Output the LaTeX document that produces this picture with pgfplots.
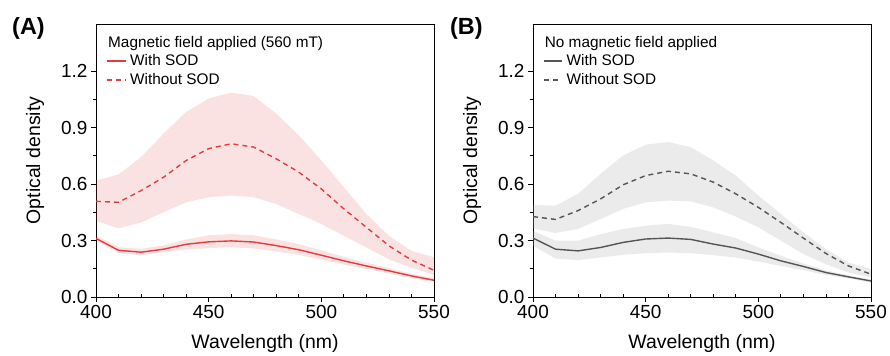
\documentclass[border=0pt]{standalone}
\usepackage{pgfplots}
\pgfplotsset{compat=1.18}
\usepackage{pgfplotstable}
\usepgfplotslibrary{fillbetween}
\usepackage{fontspec}
\setmainfont{Liberation Sans}
\definecolor{lred}{RGB}{228,60,62}
\definecolor{lgray}{RGB}{85,85,85}
\definecolor{fgray}{RGB}{175,175,175}

\pgfplotstableread{
x w wlo whi wo wolo wohi
400 0.311 0.300 0.325 0.508 0.405 0.619
410 0.248 0.233 0.265 0.503 0.364 0.651
420 0.238 0.222 0.256 0.565 0.396 0.743
430 0.254 0.236 0.274 0.636 0.450 0.868
440 0.280 0.252 0.305 0.725 0.503 0.983
450 0.293 0.260 0.328 0.788 0.530 1.054
460 0.298 0.264 0.334 0.814 0.539 1.086
470 0.292 0.258 0.328 0.796 0.530 1.067
480 0.273 0.242 0.306 0.734 0.494 0.974
490 0.251 0.224 0.281 0.663 0.441 0.859
500 0.222 0.198 0.248 0.574 0.388 0.725
510 0.192 0.172 0.213 0.468 0.325 0.583
520 0.165 0.148 0.182 0.370 0.263 0.441
530 0.139 0.125 0.153 0.272 0.200 0.325
540 0.112 0.100 0.124 0.196 0.156 0.245
550 0.089 0.080 0.100 0.142 0.117 0.211
}\dataA

\pgfplotstableread{
x w wlo whi wo wolo wohi
400 0.313 0.272 0.352 0.427 0.364 0.489
410 0.254 0.204 0.299 0.412 0.340 0.485
420 0.245 0.196 0.299 0.459 0.361 0.548
430 0.263 0.210 0.334 0.521 0.414 0.654
440 0.290 0.224 0.361 0.596 0.468 0.752
450 0.308 0.233 0.379 0.645 0.503 0.809
460 0.313 0.236 0.388 0.668 0.512 0.823
470 0.306 0.233 0.373 0.654 0.508 0.796
480 0.281 0.222 0.343 0.610 0.476 0.725
490 0.260 0.210 0.313 0.548 0.427 0.645
500 0.228 0.188 0.263 0.476 0.370 0.539
510 0.192 0.165 0.219 0.396 0.299 0.441
520 0.162 0.142 0.178 0.313 0.228 0.343
530 0.130 0.117 0.141 0.231 0.174 0.254
540 0.107 0.099 0.115 0.165 0.130 0.183
550 0.085 0.076 0.094 0.121 0.103 0.148
}\dataB

\pgfplotsset{
  panel/.style={
    scale only axis, width=338bp, height=273bp,
    clip mode=individual,
    xmin=400, xmax=550, ymin=0, ymax=1.45,
    xtick={400,450,500,550}, minor x tick num=4,
    ytick={0,0.3,0.6,0.9,1.2}, minor y tick num=1,
    yticklabel style={/pgf/number format/.cd, fixed, fixed zerofill, precision=1},
    /pgf/number format/assume math mode=true,
    tick align=outside, tick pos=left,
    major tick length=5bp, minor tick length=3bp,
    minor x tick style={yshift=3bp},
    axis line style={line width=0.8bp},
    every tick/.style={black, line width=0.8bp},
    ticklabel style={font=\fontsize{19}{22}\selectfont},
    label style={font=\fontsize{19.5}{23}\selectfont},
    xlabel={Wavelength (nm)}, ylabel={Optical density},
    xlabel style={at={(rel axis cs:0.5,-0.172)}, anchor=center},
    ylabel style={at={(rel axis cs:-0.1805,0.5)}, anchor=center},
  },
  bandline/.style={draw=none, forget plot},
}

\begin{document}
\begin{tikzpicture}
\begin{axis}[panel, name=A, at={(0,0)}, anchor=south west]
  \addplot[bandline, name path=a1] table[x=x, y=whi] {\dataA};
  \addplot[bandline, name path=a2] table[x=x, y=wlo] {\dataA};
  \addplot[bandline, name path=a3] table[x=x, y=wohi] {\dataA};
  \addplot[bandline, name path=a4] table[x=x, y=wolo] {\dataA};
  \addplot[fill=lred, fill opacity=0.15, draw=none, forget plot] fill between[of=a3 and a4];
  \addplot[fill=lred, fill opacity=0.15, draw=none, forget plot] fill between[of=a1 and a2];
  \addplot[lred, line width=1.4bp] table[x=x, y=w] {\dataA};
  \addplot[lred, line width=1.4bp, dash pattern=on 5bp off 4bp] table[x=x, y=wo] {\dataA};
  \node[anchor=base west, inner sep=0, font=\fontsize{15.4}{18}\selectfont] at (rel axis cs:0.0355,0.9147) {Magnetic field applied (560 mT)};
  \node[anchor=base west, inner sep=0, font=\fontsize{15.4}{18}\selectfont] at (rel axis cs:0.1006,0.8462) {With SOD};
  \node[anchor=base west, inner sep=0, font=\fontsize{15.4}{18}\selectfont] at (rel axis cs:0.1006,0.7766) {Without SOD};
  \draw[lred, line width=1.4bp] (rel axis cs:0.0325,0.8645) -- (rel axis cs:0.0888,0.8645);
  \draw[lred, line width=1.4bp, dash pattern=on 5bp off 4bp] (rel axis cs:0.0325,0.795) -- (rel axis cs:0.0888,0.795);
  \node[anchor=base west, inner sep=0, font=\bfseries\fontsize{23.5}{27}\selectfont] at (rel axis cs:-0.2485,0.9597) {(A)};
\end{axis}
\begin{axis}[panel, name=B, at={(437bp,0)}, anchor=south west]
  \addplot[bandline, name path=b1] table[x=x, y=whi] {\dataB};
  \addplot[bandline, name path=b2] table[x=x, y=wlo] {\dataB};
  \addplot[bandline, name path=b3] table[x=x, y=wohi] {\dataB};
  \addplot[bandline, name path=b4] table[x=x, y=wolo] {\dataB};
  \addplot[fill=fgray, fill opacity=0.25, draw=none, forget plot] fill between[of=b3 and b4];
  \addplot[fill=fgray, fill opacity=0.25, draw=none, forget plot] fill between[of=b1 and b2];
  \addplot[lgray, line width=1.4bp] table[x=x, y=w] {\dataB};
  \addplot[lgray, line width=1.4bp, dash pattern=on 5bp off 4bp] table[x=x, y=wo] {\dataB};
  \node[anchor=base west, inner sep=0, font=\fontsize{15.4}{18}\selectfont] at (rel axis cs:0.0345,0.9147) {No magnetic field applied};
  \node[anchor=base west, inner sep=0, font=\fontsize{15.4}{18}\selectfont] at (rel axis cs:0.0990,0.8462) {With SOD};
  \node[anchor=base west, inner sep=0, font=\fontsize{15.4}{18}\selectfont] at (rel axis cs:0.0990,0.7766) {Without SOD};
  \draw[lgray, line width=1.4bp] (rel axis cs:0.0317,0.8645) -- (rel axis cs:0.0849,0.8645);
  \draw[lgray, line width=1.4bp, dash pattern=on 5bp off 4bp] (rel axis cs:0.0317,0.795) -- (rel axis cs:0.0849,0.795);
  \node[anchor=base west, inner sep=0, font=\bfseries\fontsize{23.5}{27}\selectfont] at (rel axis cs:-0.2456,0.9597) {(B)};
\end{axis}
\pgfresetboundingbox
\useasboundingbox (-96bp,-59bp) rectangle (794bp,297bp);
\end{tikzpicture}
\end{document}
